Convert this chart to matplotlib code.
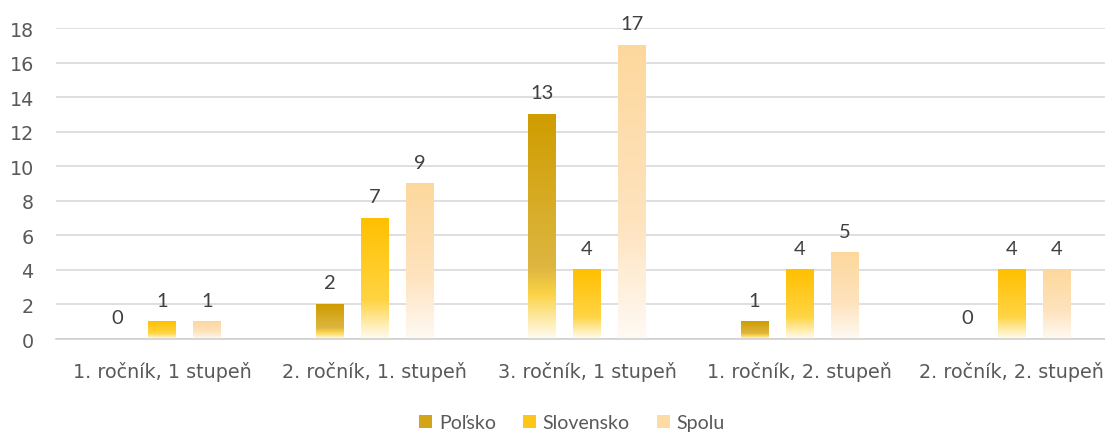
import numpy as np
import matplotlib
matplotlib.use("Agg")
from matplotlib import pyplot as plt
from matplotlib.colors import LinearSegmentedColormap, to_rgb
from matplotlib.patches import Patch

categories = ["1. ročník, 1 stupeň", "2. ročník, 1. stupeň", "3. ročník, 1 stupeň",
              "1. ročník, 2. stupeň", "2. ročník, 2. stupeň"]
series_names = ["Poľsko", "Slovensko", "Spolu"]
polsko = [0, 2, 13, 1, 0]
slovensko = [1, 7, 4, 4, 4]
spolu = [1, 9, 17, 5, 4]

# gradient stops (top -> bottom of each bar)
grads = [
    [(0.0, "#CF9D00"), (0.68, "#DDB641"), (0.8, "#FBD246"), (1.0, "#FFFCF2")],
    [(0.0, "#FFC000"), (0.68, "#FFD443"), (0.85, "#FFE9A0"), (1.0, "#FFFCF2")],
    [(0.0, "#FDD89D"), (0.6, "#FEE3BE"), (1.0, "#FFFAF4")],
]
legend_cols = ["#D3A415", "#FFC61A", "#FEDBA5"]

W, H = 1105, 435
fig = plt.figure(figsize=(W / 100, H / 100), dpi=100)
ax = fig.add_axes([56 / W, 1 - 340 / H, (1105 - 56) / W, (340 - 29) / H])

plt.rcParams['font.family'] = ['Lato', 'DejaVu Sans']
txt = "#595959"

x = np.arange(len(categories))
bw = 0.13
step = 0.212
data = [polsko, slovensko, spolu]

for k, vals in enumerate(data):
    stops = grads[k]
    cmap = LinearSegmentedColormap.from_list("g%d" % k, [(p, to_rgb(c)) for p, c in stops])
    grad = np.linspace(0, 1, 256).reshape(-1, 1)
    for i, v in enumerate(vals):
        cx = x[i] + (k - 1) * step
        if v > 0:
            ax.imshow(grad, cmap=cmap, extent=(cx - bw / 2, cx + bw / 2, 0, v),
                      origin="upper", aspect="auto", zorder=2, interpolation="bilinear")
        ax.text(cx, v + 0.75, str(v), ha="center", va="bottom", fontsize=14.5,
                color="#404040", family=['Lato', 'DejaVu Sans'])

ax.set_xlim(-0.5, 4.5 - 13 / 212.5)
ax.set_ylim(0, 18)
ax.set_yticks(range(0, 19, 2))
ax.set_xticks(x)
ax.set_xticklabels(categories)
ax.tick_params(axis="both", length=0, labelsize=13.8, colors=txt)
ax.tick_params(axis="y", pad=16)
ax.tick_params(axis="x", pad=16)
ax.grid(axis="y", color="#D9D9D9", linewidth=1.2, zorder=0)
ax.set_axisbelow(True)
for s in ["top", "right", "left"]:
    ax.spines[s].set_visible(False)
ax.spines["bottom"].set_color("#D0D0D0")
ax.spines["bottom"].set_linewidth(1.2)

handles = [Patch(facecolor=c, edgecolor="none") for c in legend_cols]
fig.legend(handles, series_names, loc="center", bbox_to_anchor=(572 / W, 11 / H),
           ncol=3, frameon=False, fontsize=14, labelcolor=txt,
           handlelength=0.65, handleheight=0.65, handletextpad=0.35, columnspacing=1.4)

fig.savefig("out.png", dpi=100)
